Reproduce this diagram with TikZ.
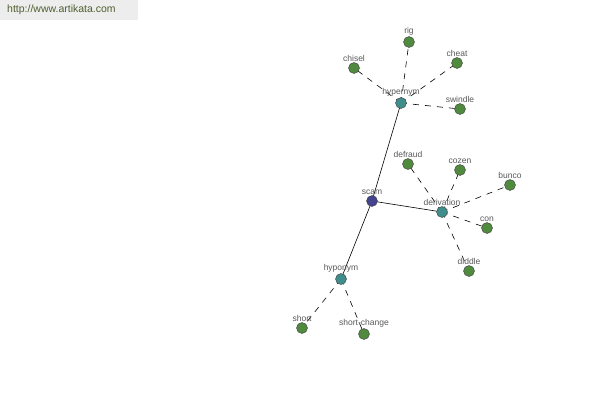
\documentclass[tikz,border=0pt]{standalone}
\usepackage{fontspec}
\setmainfont{Liberation Sans}
\definecolor{leafgreen}{HTML}{4F8A3F}
\definecolor{relteal}{HTML}{3F8E8C}
\definecolor{rootblue}{HTML}{44448E}
\definecolor{wmgray}{HTML}{EDEDED}
\definecolor{wmtext}{HTML}{4F5F2F}
\tikzset{
	word/.style={circle, draw=black!75, fill=#1, minimum size=11pt, inner sep=0pt},
	tag/.style={font=\fontsize{8.5}{9}\selectfont, text=black!65, inner sep=1pt},
	rel/.style={draw=black, line width=0.6pt},
	syn/.style={draw=black, line width=0.6pt, dash pattern=on 6pt off 6pt}
}
\begin{document}
\begin{tikzpicture}[x=1pt, y=-1pt]
		\useasboundingbox[fill=white] (0,0) rectangle (600,400);
		\fill[wmgray] (0,0) rectangle (138,20);
		\node(site)[anchor=west, font=\fontsize{10.5}{12}\selectfont, text=wmtext, inner sep=0pt] at (7,10){http://www.artikata.com};

		\coordinate(pscam) at (372,201);
		\coordinate(phyper) at (401,103);
		\coordinate(pderiv) at (442,212);
		\coordinate(phypo) at (341,279);

		% lines first
		\draw[rel] (pscam) -- (phyper);
		\draw[rel] (pscam) -- (pderiv);
		\draw[rel] (pscam) -- (phypo);
		\foreach \w/\x/\y in {rig/409/42, chisel/354/68, cheat/457/63, swindle/460/109}
			\draw[syn] (phyper) -- (\x,\y);
		\foreach \w/\x/\y in {defraud/408/164, cozen/460/170, bunco/510/185, con/487/228, diddle/469/271}
			\draw[syn] (pderiv) -- (\x,\y);
		\foreach \w/\x/\y in {short/302/328, shortchange/364/334}
			\draw[syn] (phypo) -- (\x,\y);

		% then the words
		\node(scam)[word=rootblue, label={[tag]above:scam}] at (pscam){};
		\node(hypernym)[word=relteal, label={[tag]above:hypernym}] at (phyper){};
		\node(derivation)[word=relteal, label={[tag]above:derivation}] at (pderiv){};
		\node(hyponym)[word=relteal, label={[tag]above:hyponym}] at (phypo){};
		\foreach \w/\x/\y/\t in {rig/409/42/rig, chisel/354/68/chisel, cheat/457/63/cheat, swindle/460/109/swindle,
			defraud/408/164/defraud, cozen/460/170/cozen, bunco/510/185/bunco, con/487/228/con, diddle/469/271/diddle,
			short/302/328/short, shortchange/364/334/short-change}
			\node(\w)[word=leafgreen, label={[tag]above:\t}] at (\x,\y){};
	\end{tikzpicture}
\end{document}
